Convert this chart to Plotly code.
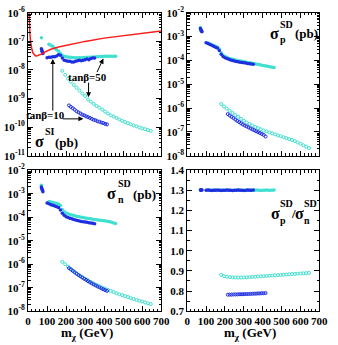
import plotly.graph_objects as go

W, H = 338, 345
FONT = "Liberation Serif"
BLUE = "#1e2ee0"
TURQ = "#40e0d0"
RED = "#ff1a1a"

# ---------------- data ----------------
# neutralino masses (GeV)
m10_cl = [70, 72, 74, 76, 78]
m50_cl = [70]
m10_hi = [100, 110, 120, 130, 140, 150, 160, 170, 180, 190, 200, 210, 220,
          230, 240, 250, 260, 270, 280, 290, 300, 310, 320, 330, 340, 350]
m50_hi = [110, 120, 130, 140, 150, 160, 170, 180, 190, 200, 210, 220, 230,
          240, 250, 260, 270, 280, 290, 300, 310, 320, 330, 340, 350, 360,
          370, 380, 390, 400, 410, 420, 430, 440, 450, 460]
m10_lo = [215, 225, 235, 245, 255, 265, 275, 285, 295, 305, 315, 325, 335,
          345, 355, 365, 375, 385, 395, 405, 415]
m50_lo = [180, 195, 210, 225, 240, 255, 270, 285, 300, 315, 330, 345, 360,
          375, 390, 405, 420, 435, 450, 465, 480, 495, 510, 525, 540, 555,
          570, 585, 600, 615, 630, 645]

# experimental limit curve (sigma_SI, pb)
m_lim = [3, 4, 6, 8, 10, 13, 16, 20, 25, 30, 38, 45, 55, 70, 90, 120, 160,
         200, 250, 300, 400, 500, 600, 700]
si_lim = [2.0e-6, 1.0e-6, 5.0e-7, 3.0e-7, 1.8e-7, 1.0e-7, 7.0e-8, 5.3e-8,
          4.0e-8, 3.5e-8, 3.15e-8, 3.1e-8, 3.25e-8, 3.6e-8, 4.3e-8, 5.3e-8,
          6.4e-8, 7.3e-8, 8.5e-8, 1.0e-7, 1.3e-7, 1.6e-7, 1.95e-7, 2.3e-7]

# sigma_SI (pb)
si_10_cl = [5.5e-8, 5.0e-8, 4.5e-8, 4.1e-8, 3.8e-8]
si_50_cl = [1.35e-7]
si_10_hi = [2.7e-8, 2.8e-8, 2.8e-8, 2.9e-8, 2.9e-8, 3.1e-8, 3.4e-8, 3.3e-8,
            2.6e-8, 2.2e-8, 2.1e-8, 2.0e-8, 2.0e-8, 1.9e-8, 1.9e-8, 2.0e-8,
            2.1e-8, 2.2e-8, 2.1e-8, 2.2e-8, 2.3e-8, 2.4e-8, 2.3e-8, 2.5e-8,
            2.6e-8, 2.6e-8]
si_50_hi = [8.0e-8, 7.3e-8, 6.6e-8, 5.8e-8, 5.1e-8, 4.5e-8, 3.8e-8, 3.3e-8,
            3.0e-8, 2.9e-8, 2.85e-8, 2.8e-8, 2.75e-8, 2.7e-8, 2.7e-8, 2.7e-8,
            2.7e-8, 2.7e-8, 2.75e-8, 2.75e-8, 2.8e-8, 2.8e-8, 2.8e-8, 2.85e-8,
            2.85e-8, 2.9e-8, 2.9e-8, 2.95e-8, 2.95e-8, 3.0e-8, 3.0e-8, 3.0e-8,
            3.05e-8, 3.0e-8, 3.05e-8, 3.0e-8]
si_10_lo = [5.75e-10, 5.1e-10, 4.6e-10, 4.1e-10, 3.6e-10, 3.3e-10, 3.0e-10,
            2.75e-10, 2.6e-10, 2.4e-10, 2.25e-10, 2.1e-10, 1.95e-10, 1.8e-10,
            1.75e-10, 1.6e-10, 1.55e-10, 1.45e-10, 1.4e-10, 1.3e-10, 1.25e-10]
si_50_lo = [9.3e-9, 6.8e-9, 5.0e-9, 3.9e-9, 3.0e-9, 2.4e-9, 1.9e-9, 1.5e-9,
            1.23e-9, 9.3e-10, 7.8e-10, 6.5e-10, 5.5e-10, 4.8e-10, 4.1e-10,
            3.5e-10, 3.0e-10, 2.6e-10, 2.35e-10, 2.1e-10, 1.86e-10, 1.66e-10,
            1.51e-10, 1.38e-10, 1.26e-10, 1.15e-10, 1.07e-10, 9.8e-11, 9.1e-11,
            8.5e-11, 7.9e-11, 7.4e-11]

# sigma_p^SD (pb)
sdp_10_cl = [2.2e-3, 2.0e-3, 1.85e-3, 1.7e-3, 1.6e-3]
sdp_50_cl = [2.4e-3]
sdp_10_hi = [5.6e-4, 5.1e-4, 4.7e-4, 4.3e-4, 3.9e-4, 3.6e-4, 3.3e-4, 2.6e-4,
             1.8e-4, 1.45e-4, 1.3e-4, 1.2e-4, 1.12e-4, 1.05e-4, 1.0e-4, 9.5e-5,
             9.0e-5, 8.8e-5, 8.5e-5, 8.2e-5, 8.0e-5, 7.8e-5, 7.5e-5, 7.3e-5,
             7.1e-5, 6.9e-5]
sdp_50_hi = [5.4e-4, 5.0e-4, 4.6e-4, 4.2e-4, 3.9e-4, 3.6e-4, 3.0e-4, 2.1e-4,
             1.65e-4, 1.45e-4, 1.35e-4, 1.25e-4, 1.18e-4, 1.12e-4, 1.07e-4,
             1.02e-4, 9.8e-5, 9.5e-5, 9.2e-5, 8.9e-5, 8.6e-5, 8.3e-5, 8.0e-5,
             7.8e-5, 7.5e-5, 7.2e-5, 6.9e-5, 6.7e-5, 6.4e-5, 6.2e-5, 6.0e-5,
             5.8e-5, 5.6e-5, 5.4e-5, 5.2e-5, 5.0e-5]
sdp_10_lo = [5.6e-7, 4.9e-7, 4.3e-7, 3.8e-7, 3.3e-7, 2.9e-7, 2.6e-7, 2.3e-7,
             2.05e-7, 1.85e-7, 1.7e-7, 1.55e-7, 1.4e-7, 1.28e-7, 1.17e-7,
             1.07e-7, 9.8e-8, 9.0e-8, 8.2e-8, 7.5e-8, 6.4e-8]
sdp_50_lo = [1.48e-6, 1.17e-6, 9.5e-7, 7.8e-7, 6.3e-7, 5.1e-7, 4.3e-7, 3.55e-7,
             2.95e-7, 2.5e-7, 2.15e-7, 1.86e-7, 1.62e-7, 1.45e-7, 1.29e-7,
             1.15e-7, 1.05e-7, 9.5e-8, 8.7e-8, 7.9e-8, 7.2e-8, 6.6e-8, 6.0e-8,
             5.5e-8, 5.0e-8, 4.6e-8, 4.1e-8, 3.6e-8, 3.2e-8, 2.75e-8, 2.4e-8,
             2.1e-8]

# sigma_n^SD (pb)
sdn_10_cl = [1.9e-3, 1.7e-3, 1.5e-3, 1.35e-3, 1.2e-3]
sdn_50_cl = [2.3e-3]
sdn_10_hi = [4.0e-4, 3.7e-4, 3.4e-4, 3.2e-4, 3.0e-4, 2.8e-4, 2.6e-4, 2.0e-4,
             1.45e-4, 1.2e-4, 1.05e-4, 9.6e-5, 9.0e-5, 8.5e-5, 8.0e-5, 7.6e-5,
             7.2e-5, 6.9e-5, 6.6e-5, 6.4e-5, 6.2e-5, 6.0e-5, 5.8e-5, 5.6e-5,
             5.5e-5, 5.3e-5]
sdn_50_hi = [4.6e-4, 4.4e-4, 4.2e-4, 4.0e-4, 3.8e-4, 3.6e-4, 3.1e-4, 2.1e-4,
             1.7e-4, 1.5e-4, 1.38e-4, 1.3e-4, 1.24e-4, 1.18e-4, 1.12e-4,
             1.07e-4, 1.03e-4, 9.9e-5, 9.6e-5, 9.3e-5, 9.0e-5, 8.7e-5, 8.5e-5,
             8.2e-5, 8.0e-5, 7.8e-5, 7.6e-5, 7.4e-5, 7.2e-5, 7.0e-5, 6.8e-5,
             6.6e-5, 6.3e-5, 6.0e-5, 5.7e-5, 5.4e-5]
sdn_10_lo = [6.8e-7, 6.0e-7, 5.2e-7, 4.5e-7, 3.9e-7, 3.45e-7, 3.05e-7, 2.7e-7,
             2.4e-7, 2.15e-7, 1.9e-7, 1.7e-7, 1.52e-7, 1.37e-7, 1.25e-7,
             1.13e-7, 1.03e-7, 9.4e-8, 8.6e-8, 7.9e-8, 7.3e-8]
sdn_50_lo = [1.26e-6, 1.0e-6, 7.9e-7, 6.3e-7, 5.0e-7, 4.1e-7, 3.4e-7, 2.8e-7,
             2.4e-7, 2.04e-7, 1.74e-7, 1.51e-7, 1.32e-7, 1.15e-7, 1.02e-7,
             9.1e-8, 8.1e-8, 7.2e-8, 6.5e-8, 5.8e-8, 5.2e-8, 4.8e-8, 4.4e-8,
             4.0e-8, 3.6e-8, 3.3e-8, 3.0e-8, 2.75e-8, 2.6e-8, 2.35e-8, 2.15e-8,
             2.0e-8]

# ratio sigma_p^SD / sigma_n^SD
r_10_cl = [1.302, 1.301, 1.302, 1.301, 1.302]
r_50_cl = [1.301]
r_10_hi = [1.300, 1.301, 1.300, 1.299, 1.300, 1.300, 1.301, 1.300, 1.299,
           1.300, 1.300, 1.301, 1.300, 1.300, 1.299, 1.300, 1.300, 1.301,
           1.300, 1.300, 1.299, 1.300, 1.301, 1.300, 1.300, 1.301]
r_50_hi = [1.301, 1.300, 1.300, 1.301, 1.300, 1.299, 1.300, 1.301, 1.300,
           1.300, 1.300, 1.301, 1.300, 1.299, 1.300, 1.300, 1.301, 1.300,
           1.300, 1.300, 1.299, 1.300, 1.301, 1.300, 1.300, 1.300, 1.301,
           1.300, 1.299, 1.300, 1.300, 1.301, 1.300, 1.300, 1.300, 1.301]
r_10_lo = [0.782, 0.782, 0.782, 0.783, 0.783, 0.783, 0.784, 0.784, 0.784,
           0.785, 0.785, 0.785, 0.786, 0.786, 0.787, 0.787, 0.788, 0.788,
           0.789, 0.789, 0.790]
r_50_lo = [0.880, 0.874, 0.871, 0.869, 0.868, 0.867, 0.867, 0.867, 0.868,
           0.868, 0.869, 0.870, 0.871, 0.872, 0.873, 0.874, 0.875, 0.876,
           0.877, 0.878, 0.879, 0.880, 0.881, 0.882, 0.883, 0.884, 0.885,
           0.886, 0.887, 0.888, 0.889, 0.890]

x_ticks = [0, 100, 200, 300, 400, 500, 600, 700]

# ---------------- figure ----------------
fig = go.Figure()

def pts(x, y, color, xa, ya, open_ring):
    if open_ring:
        marker = dict(symbol="circle-open", size=3, color=color,
                      line=dict(width=1, color=color))
    else:
        marker = dict(symbol="circle", size=3.5, color=color,
                      line=dict(width=0))
    fig.add_trace(go.Scatter(x=x, y=y, mode="markers", xaxis=xa, yaxis=ya,
                             showlegend=False, marker=marker))

panels = [
    ("x", "y", [si_50_cl, si_50_hi, si_50_lo], [si_10_cl, si_10_hi, si_10_lo]),
    ("x2", "y2", [sdp_50_cl, sdp_50_hi, sdp_50_lo], [sdp_10_cl, sdp_10_hi, sdp_10_lo]),
    ("x3", "y3", [sdn_50_cl, sdn_50_hi, sdn_50_lo], [sdn_10_cl, sdn_10_hi, sdn_10_lo]),
    ("x4", "y4", [r_50_cl, r_50_hi, r_50_lo], [r_10_cl, r_10_hi, r_10_lo]),
]
rings = [False, False, True]
for xa, ya, v50, v10 in panels:
    for m, v, o in zip([m50_cl, m50_hi, m50_lo], v50, rings):
        pts(m, v, TURQ, xa, ya, o)
    for m, v, o in zip([m10_cl, m10_hi, m10_lo], v10, rings):
        pts(m, v, BLUE, xa, ya, o)

fig.add_trace(go.Scatter(x=m_lim, y=si_lim, mode="lines", xaxis="x", yaxis="y",
                         showlegend=False, line=dict(color=RED, width=1.5)))

# ---------------- axes ----------------
def px(x):
    return x / W

def py(y):
    return 1 - y / H

XL = [px(26), px(164)]
XR = [px(191), px(328)]
YT = [py(154), py(5)]
YB = [py(316), py(169)]

tickfont = dict(family=FONT, size=11, color="black", weight="bold")

def xaxis(domain, anchor, labels):
    return dict(domain=domain, anchor=anchor, range=[0, 700],
                tickvals=x_ticks, ticktext=[str(t) for t in x_ticks],
                tickangle=0,
                ticks="inside", ticklen=5, tickwidth=1, tickcolor="black",
                mirror="allticks", showline=True, linecolor="black",
                linewidth=1, showgrid=False, zeroline=False,
                showticklabels=labels, tickfont=tickfont,
                minor=dict(dtick=20, tick0=0, ticks="inside", ticklen=2.5,
                           tickcolor="black", showgrid=False))

def logaxis(domain, anchor, lo, hi):
    vals = [10.0 ** e for e in range(lo, hi + 1)]
    text = ["10<sup>%d</sup>" % e for e in range(lo, hi + 1)]
    minors = [k * 10.0 ** e for e in range(lo, hi) for k in range(2, 10)]
    return dict(domain=domain, anchor=anchor, type="log", range=[lo, hi],
                tickvals=vals, ticktext=text, ticks="inside", ticklen=5,
                tickwidth=1, tickcolor="black", mirror="allticks",
                showline=True, linecolor="black", linewidth=1, showgrid=False,
                zeroline=False, tickfont=tickfont,
                minor=dict(tickvals=minors, ticks="inside", ticklen=2.5,
                           tickcolor="black", showgrid=False))

ratio_ticks = [0.7, 0.8, 0.9, 1.0, 1.1, 1.2, 1.3, 1.4]

fig.update_layout(
    width=W, height=H, margin=dict(l=0, r=0, t=0, b=0),
    paper_bgcolor="white", plot_bgcolor="white",
    xaxis=xaxis(XL, "y", False),
    yaxis=logaxis(YT, "x", -11, -6),
    xaxis2=xaxis(XR, "y2", False),
    yaxis2=logaxis(YT, "x2", -8, -2),
    xaxis3=xaxis(XL, "y3", True),
    yaxis3=logaxis(YB, "x3", -8, -2),
    xaxis4=xaxis(XR, "y4", True),
    yaxis4=dict(domain=YB, anchor="x4", range=[0.7, 1.4],
                tickvals=ratio_ticks, ticktext=["%.1f" % t for t in ratio_ticks],
                ticks="inside", ticklen=5, tickwidth=1, tickcolor="black",
                mirror="allticks", showline=True, linecolor="black",
                linewidth=1, showgrid=False, zeroline=False, tickfont=tickfont,
                minor=dict(dtick=0.05, tick0=0.7, ticks="inside", ticklen=2.5,
                           tickcolor="black", showgrid=False)),
)

# ---------------- text ----------------
def lab(text, x, y, size, anchor="left", yanchor="middle"):
    fig.add_annotation(text=text, x=px(x), y=py(y), xref="paper", yref="paper",
                       xanchor=anchor, yanchor=yanchor, showarrow=False,
                       borderpad=0,
                       font=dict(family=FONT, size=size, color="black",
                                 weight="bold"))

# sigma_SI label
lab("σ", 32, 139, 16)
lab("SI", 42, 129, 10)
lab("(pb)", 53, 140, 13)
# sigma_p^SD label
lab("σ", 276, 27, 16)
lab("SD", 286, 17, 10)
lab("p", 286, 33, 10)
lab("(pb)", 302, 27, 13)
# sigma_n^SD label
lab("σ", 107, 193, 16)
lab("SD", 118, 183, 10)
lab("n", 118, 200, 10)
lab("(pb)", 134, 194, 13)
# ratio label
lab("σ", 277, 214, 16)
lab("SD", 286, 204, 10)
lab("p", 286, 221, 10)
lab("/", 298, 214, 13)
lab("σ", 302, 214, 16)
lab("SD", 311, 204, 10)
lab("n", 311, 221, 10)
# x titles
lab("m<sub>χ</sub> (GeV)", 87, 339, 13, "center")
lab("m<sub>χ</sub> (GeV)", 256, 339, 13, "center")
# tan beta labels
lab("tanβ=50", 88, 72, 11, "center")
lab("tanβ=10", 44, 112, 11, "center")

def arrow(m, v, ax, ay):
    fig.add_annotation(x=m, y=v, xref="x", yref="y", text="", showarrow=True,
                       ax=ax, ay=ay, arrowhead=2, arrowsize=1, arrowwidth=1,
                       arrowcolor="black", standoff=0, startstandoff=0)

arrow(396, -7.6, -7, 15)
arrow(318, -8.95, 0, -16)
arrow(130, -7.62, 0, 53)
arrow(291, -9.71, -22, 0)

fig.write_html(
    "out.html",
    config={"displayModeBar": False},
    post_script="document.body.style.margin='0';"
                "document.body.style.overflow='hidden';",
)
